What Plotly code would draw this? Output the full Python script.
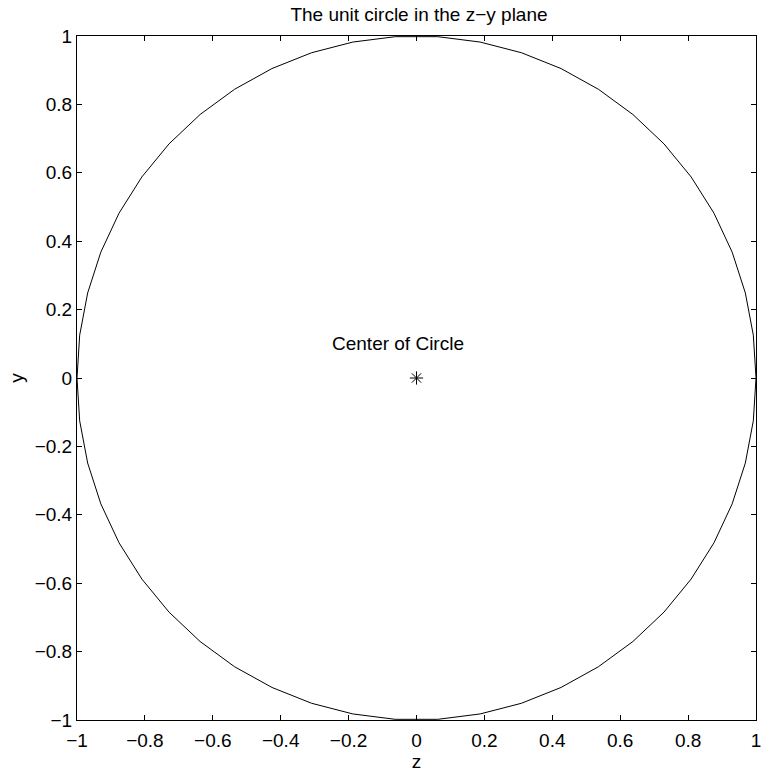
import plotly.graph_objects as go

# Unit circle vertices (51 points, 7.2 degree steps, closed)
circle_z = [1.0000, 0.9921, 0.9686, 0.9298, 0.8763, 0.8090, 0.7290, 0.6374, 0.5358, 0.4258,
            0.3090, 0.1874, 0.0628, -0.0628, -0.1874, -0.3090, -0.4258, -0.5358, -0.6374, -0.7290,
            -0.8090, -0.8763, -0.9298, -0.9686, -0.9921, -1.0000, -0.9921, -0.9686, -0.9298, -0.8763,
            -0.8090, -0.7290, -0.6374, -0.5358, -0.4258, -0.3090, -0.1874, -0.0628, 0.0628, 0.1874,
            0.3090, 0.4258, 0.5358, 0.6374, 0.7290, 0.8090, 0.8763, 0.9298, 0.9686, 0.9921, 1.0000]
circle_y = [0.0000, 0.1253, 0.2487, 0.3681, 0.4818, 0.5878, 0.6845, 0.7705, 0.8443, 0.9048,
            0.9511, 0.9823, 0.9980, 0.9980, 0.9823, 0.9511, 0.9048, 0.8443, 0.7705, 0.6845,
            0.5878, 0.4818, 0.3681, 0.2487, 0.1253, 0.0000, -0.1253, -0.2487, -0.3681, -0.4818,
            -0.5878, -0.6845, -0.7705, -0.8443, -0.9048, -0.9511, -0.9823, -0.9980, -0.9980, -0.9823,
            -0.9511, -0.9048, -0.8443, -0.7705, -0.6845, -0.5878, -0.4818, -0.3681, -0.2487, -0.1253,
            0.0000]

center_z = [0]
center_y = [0]
label_text = "Center of Circle"
label_pos = (-0.25, 0.1)

tick_vals = [-1, -0.8, -0.6, -0.4, -0.2, 0, 0.2, 0.4, 0.6, 0.8, 1]
tick_text = ["\u22121", "\u22120.8", "\u22120.6", "\u22120.4", "\u22120.2", "0",
             "0.2", "0.4", "0.6", "0.8", "1"]

FONT = "Liberation Sans, Arial, Helvetica, sans-serif"
FS = 19

fig = go.Figure()
fig.add_trace(go.Scatter(x=circle_z, y=circle_y, mode="lines",
                         line=dict(color="black", width=1), hoverinfo="skip",
                         showlegend=False))
fig.add_trace(go.Scatter(x=center_z, y=center_y, mode="markers",
                         marker=dict(symbol="asterisk-open", size=11, color="black",
                                     line=dict(color="black", width=1)),
                         showlegend=False))
fig.add_annotation(x=label_pos[0], y=label_pos[1], text=label_text, showarrow=False,
                   xanchor="left", yanchor="middle", xshift=-2,
                   font=dict(family=FONT, size=FS, color="black"))

axis_common = dict(range=[-1, 1], tickvals=tick_vals, ticktext=tick_text,
                   ticks="inside", ticklen=5, tickwidth=1, tickcolor="black",
                   showline=True, linecolor="black", linewidth=1, mirror="allticks",
                   showgrid=False, zeroline=False,
                   tickfont=dict(family=FONT, size=FS, color="black"))

fig.update_xaxes(**axis_common, ticklabelstandoff=3,
                 title=dict(text="z", font=dict(family=FONT, size=FS, color="black"), standoff=2))
fig.update_yaxes(**axis_common,
                 title=dict(text="y", font=dict(family=FONT, size=FS, color="black"), standoff=6))

fig.update_layout(
    width=767, height=775,
    margin=dict(l=77, r=6, t=36, b=55),
    paper_bgcolor="white", plot_bgcolor="white",
    title=dict(text="The unit circle in the z\u2212y plane", x=419 / 767,
               xanchor="center", y=1 - 14 / 775, yanchor="middle",
               font=dict(family=FONT, size=FS, color="black")),
)

fig.write_html("out.html")
